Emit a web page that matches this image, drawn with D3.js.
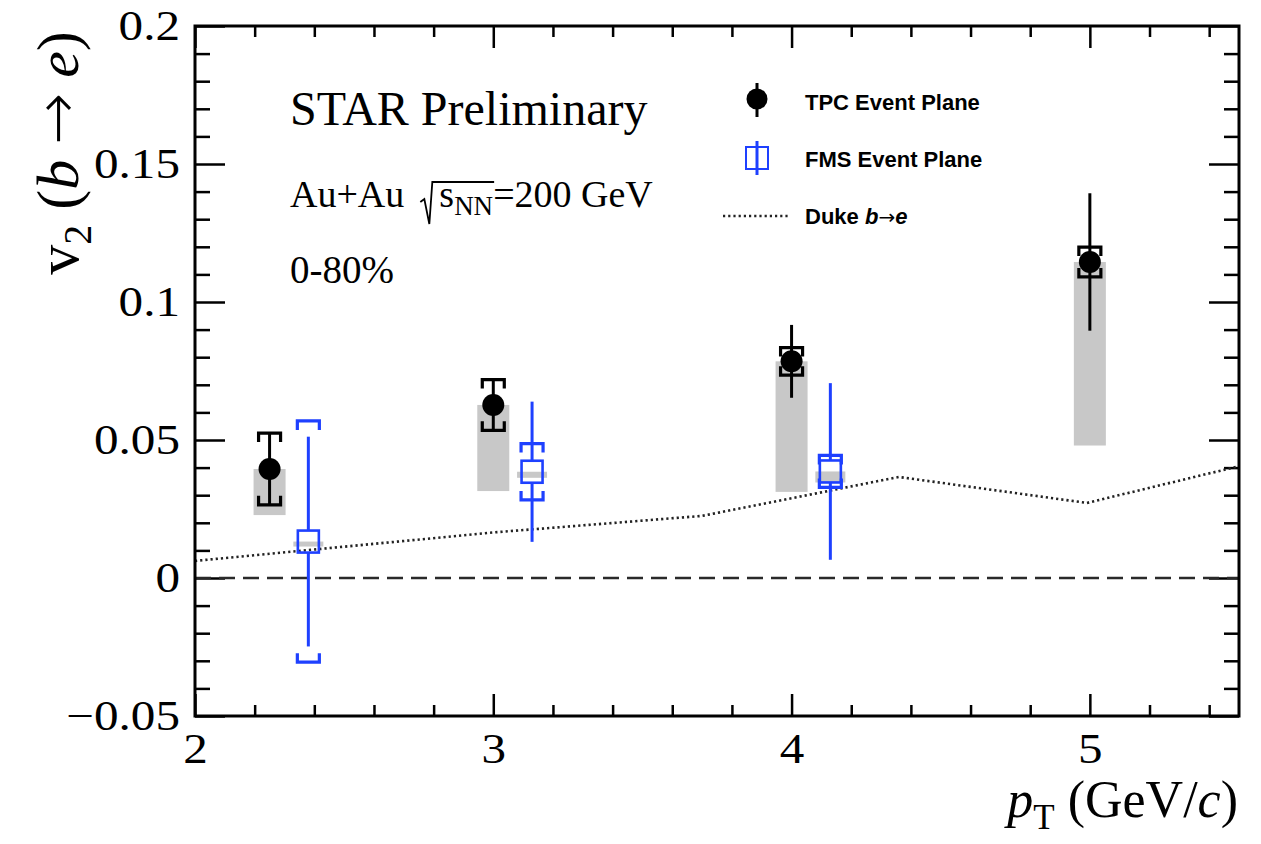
<!DOCTYPE html>
<html>
<head>
<meta charset="utf-8">
<script src="https://cdn.jsdelivr.net/npm/d3@7"></script>
<style>
  body { margin: 0; background: #fff; }
  svg { display: block; }
  .serif { font-family: "Liberation Serif", "Times New Roman", serif; }
</style>
</head>
<body>
<div id="chart"></div>
<script>
// v2 of b->e vs pT
var tpcPt = [2.25, 3.0, 4.0, 5.0];
var tpcV2 = [0.0395, 0.0627, 0.0785, 0.1145];
var tpcStat = [0.0132, 0.0092, 0.0132, 0.0249];
var tpcSys = [0.013, 0.0092, 0.005, 0.0054];
var tpcLow = [0.0228, 0.0315, 0.0312, 0.048];   // grey box bottom

var fmsPt = [2.38, 3.13, 4.13];
var fmsV2 = [0.0132, 0.0385, 0.0386];
var fmsStat = [0.038, 0.0254, 0.032];
var fmsSys = [0.0437, 0.0102, 0.0058];
var fmsLow = [0.0114, 0.0363, 0.0346];

var dukePt = [2.0, 3.0, 3.7, 4.36, 4.99, 5.5];
var dukeV2 = [0.0062, 0.0165, 0.0225, 0.0366, 0.0272, 0.0405];

var xTicks = [2, 3, 4, 5];
var xTickLabels = ["2", "3", "4", "5"];
var yTicks = [-0.05, 0, 0.05, 0.1, 0.15, 0.2];
var yTickLabels = ["\u22120.05", "0", "0.05", "0.1", "0.15", "0.2"];

var W = 1261, H = 844;
var blue = "#1e40ff", grey = "#c8c8c8";

var svg = d3.select("#chart").append("svg")
  .attr("width", W).attr("height", H);

var x = d3.scaleLinear().domain([2, 5.5]).range([195, 1239]);
var y = d3.scaleLinear().domain([-0.05, 0.2]).range([716, 26]);

var xMinor = d3.range(2, 5.5, 0.2).filter(function(v) { return Math.abs(v - Math.round(v)) > 1e-6; });
var yMinor = d3.range(-0.05, 0.2, 0.01).filter(function(v) { return Math.abs(v * 20 - Math.round(v * 20)) > 1e-6; });

function styleAxis(g) {
  g.select(".domain").remove();
  g.selectAll(".tick line").attr("stroke", "#000").attr("stroke-width", 2.5);
  g.selectAll("text").attr("class", "serif").attr("font-size", 42).attr("fill", "#000")
    .each(function() {
      var w = this.getComputedTextLength();
      d3.select(this).attr("textLength", w * 1.17).attr("lengthAdjust", "spacingAndGlyphs");
    });
}

// left
svg.append("g").attr("transform", "translate(195,0)")
  .call(d3.axisLeft(y).tickValues(yTicks).tickSize(-30).tickPadding(15)
    .tickFormat(function(d, i) { return yTickLabels[i]; }))
  .call(styleAxis);
svg.append("g").attr("transform", "translate(195,0)")
  .call(d3.axisLeft(y).tickValues(yMinor).tickSize(-15).tickFormat(""))
  .call(styleAxis);
// right
svg.append("g").attr("transform", "translate(1239,0)")
  .call(d3.axisRight(y).tickValues(yTicks).tickSize(-30).tickFormat(""))
  .call(styleAxis);
svg.append("g").attr("transform", "translate(1239,0)")
  .call(d3.axisRight(y).tickValues(yMinor).tickSize(-15).tickFormat(""))
  .call(styleAxis);
// bottom
svg.append("g").attr("transform", "translate(0,716)")
  .call(d3.axisBottom(x).tickValues(xTicks).tickSize(-22).tickPadding(17)
    .tickFormat(function(d, i) { return xTickLabels[i]; }))
  .call(styleAxis);
svg.append("g").attr("transform", "translate(0,716)")
  .call(d3.axisBottom(x).tickValues(xMinor).tickSize(-11).tickFormat(""))
  .call(styleAxis);
// top
svg.append("g").attr("transform", "translate(0,26)")
  .call(d3.axisTop(x).tickValues(xTicks).tickSize(-22).tickFormat(""))
  .call(styleAxis);
svg.append("g").attr("transform", "translate(0,26)")
  .call(d3.axisTop(x).tickValues(xMinor).tickSize(-11).tickFormat(""))
  .call(styleAxis);

// zero line
svg.append("line")
  .attr("x1", x(2)).attr("x2", x(5.5)).attr("y1", y(0)).attr("y2", y(0))
  .attr("stroke", "#2a2a2a").attr("stroke-width", 2.6).attr("stroke-dasharray", "16,8");

// grey boxes
svg.selectAll(".tpcbox").data(tpcPt).enter().append("rect")
  .attr("x", function(d) { return x(d) - 16; })
  .attr("width", 32)
  .attr("y", function(d, i) { return y(tpcV2[i]); })
  .attr("height", function(d, i) { return y(tpcLow[i]) - y(tpcV2[i]); })
  .attr("fill", grey);
svg.selectAll(".fmsbox").data(fmsPt).enter().append("rect")
  .attr("x", function(d) { return x(d) - 15; })
  .attr("width", 30)
  .attr("y", function(d, i) { return y(fmsV2[i]); })
  .attr("height", function(d, i) { return y(fmsLow[i]) - y(fmsV2[i]); })
  .attr("fill", grey);

// Duke curve
var duke = dukePt.map(function(d, i) { return [d, dukeV2[i]]; });
svg.append("path").datum(duke)
  .attr("d", d3.line().x(function(d) { return x(d[0]); }).y(function(d) { return y(d[1]); }))
  .attr("fill", "none").attr("stroke", "#222").attr("stroke-width", 2.6)
  .attr("stroke-dasharray", "2.2,3");

// brackets for systematic errors
function bracket(cx, cy, dir, w, leg) {
  // dir -1: top bracket (legs down), +1 bottom bracket (legs up)
  var h = w / 2;
  return "M" + (cx - h) + "," + (cy - dir * leg) + "L" + (cx - h) + "," + cy +
    "L" + (cx + h) + "," + cy + "L" + (cx + h) + "," + (cy - dir * leg);
}

function drawSeries(pts, v2, stat, sys, color, gap, cls) {
  var g = svg.append("g").attr("class", cls);
  pts.forEach(function(p, i) {
    var cx = x(p), cy = y(v2[i]);
    g.append("line").attr("x1", cx).attr("x2", cx)
      .attr("y1", y(v2[i] + stat[i])).attr("y2", cy - gap)
      .attr("stroke", color).attr("stroke-width", 3);
    g.append("line").attr("x1", cx).attr("x2", cx)
      .attr("y1", cy + gap).attr("y2", y(v2[i] - stat[i]))
      .attr("stroke", color).attr("stroke-width", 3);
    g.append("path").attr("d", bracket(cx, y(v2[i] + sys[i]), -1, 22, 9))
      .attr("fill", "none").attr("stroke", color).attr("stroke-width", 3.2);
    g.append("path").attr("d", bracket(cx, y(v2[i] - sys[i]), 1, 22, 9))
      .attr("fill", "none").attr("stroke", color).attr("stroke-width", 3.2);
  });
  return g;
}

drawSeries(tpcPt, tpcV2, tpcStat, tpcSys, "#000", 0, "tpc")
  .selectAll(".m").data(tpcPt).enter().append("circle")
  .attr("cx", function(d) { return x(d); })
  .attr("cy", function(d, i) { return y(tpcV2[i]); })
  .attr("r", 11).attr("fill", "#000");

drawSeries(fmsPt, fmsV2, fmsStat, fmsSys, blue, 11, "fms")
  .selectAll(".m").data(fmsPt).enter().append("rect")
  .attr("x", function(d) { return x(d) - 10.5; })
  .attr("y", function(d, i) { return y(fmsV2[i]) - 11; })
  .attr("width", 21).attr("height", 22)
  .attr("fill", "none").attr("stroke", blue).attr("stroke-width", 2.6);

// frame
svg.append("rect").attr("x", 195).attr("y", 26).attr("width", 1044).attr("height", 690)
  .attr("fill", "none").attr("stroke", "#000").attr("stroke-width", 3);

// labels
var ylab = svg.append("text").attr("class", "serif")
  .attr("transform", "translate(78,153) rotate(-90)")
  .attr("text-anchor", "middle").attr("font-size", 60);
ylab.append("tspan").text("v");
ylab.append("tspan").attr("font-size", 40).attr("dy", 13).text("2");
ylab.append("tspan").attr("dy", -13).text(" (");
ylab.append("tspan").attr("font-style", "italic").text("b");
ylab.append("tspan").text(" ");
ylab.append("tspan").attr("font-family", "DejaVu Sans").attr("font-weight", 200).attr("font-size", 62).text("\u2192");
ylab.append("tspan").text(" ");
ylab.append("tspan").attr("font-style", "italic").text("e");
ylab.append("tspan").text(")");

var xlab = svg.append("text").attr("class", "serif")
  .attr("x", 1238).attr("y", 817).attr("text-anchor", "end").attr("font-size", 52);
xlab.append("tspan").attr("font-style", "italic").text("p");
xlab.append("tspan").attr("font-size", 35).attr("dy", 12).text("T");
xlab.append("tspan").attr("dy", -12).text(" (GeV/");
xlab.append("tspan").attr("font-style", "italic").text("c");
xlab.append("tspan").text(")");

svg.append("text").attr("class", "serif").attr("x", 290).attr("y", 125)
  .attr("font-size", 48).text("STAR Preliminary");

var sys = svg.append("text").attr("class", "serif").attr("x", 290).attr("y", 207)
  .attr("font-size", 38);
sys.append("tspan").text("Au+Au");
sys.append("tspan").attr("dx", 35).text("s");
sys.append("tspan").attr("font-size", 27).attr("dy", 8).text("NN");
sys.append("tspan").attr("dy", -8).text("=200 GeV");
var sNode = sys.node();
var sBox = sNode.getExtentOfChar(5);
var nBox = sNode.getExtentOfChar(7);
var rx0 = sBox.x - 10;
svg.append("path")
  .attr("d", "M" + (rx0 - 9) + ",202 L" + (rx0 - 5) + ",199 L" + rx0 + ",224 L" + (rx0 + 3) + ",182 L" + (nBox.x + nBox.width + 1) + ",182")
  .attr("fill", "none").attr("stroke", "#000").attr("stroke-width", 1.8);

svg.append("text").attr("class", "serif").attr("x", 290).attr("y", 283)
  .attr("font-size", 39).text("0-80%");

// legend
var leg = svg.append("g").attr("font-family", "Liberation Sans, Arial, sans-serif")
  .attr("font-weight", "bold").attr("font-size", 22);
leg.append("line").attr("x1", 757).attr("x2", 757).attr("y1", 83).attr("y2", 117)
  .attr("stroke", "#000").attr("stroke-width", 3);
leg.append("circle").attr("cx", 757).attr("cy", 99).attr("r", 10.5).attr("fill", "#000");
leg.append("text").attr("x", 805).attr("y", 110).text("TPC Event Plane");

leg.append("rect").attr("x", 746).attr("y", 147).attr("width", 22).attr("height", 22)
  .attr("fill", "none").attr("stroke", blue).attr("stroke-width", 2);
leg.append("line").attr("x1", 757).attr("x2", 757).attr("y1", 141).attr("y2", 175)
  .attr("stroke", blue).attr("stroke-width", 3);
leg.append("text").attr("x", 805).attr("y", 167).text("FMS Event Plane");

leg.append("line").attr("x1", 723).attr("x2", 788).attr("y1", 216).attr("y2", 216)
  .attr("stroke", "#222").attr("stroke-width", 2.6).attr("stroke-dasharray", "2.2,3");
var dl = leg.append("text").attr("x", 805).attr("y", 224);
dl.append("tspan").text("Duke ");
dl.append("tspan").attr("font-style", "italic").text("b");
dl.append("tspan").attr("font-family", "DejaVu Sans").attr("font-weight", "normal").attr("font-size", 20).text("\u2192");
dl.append("tspan").attr("font-style", "italic").text("e");
</script>
</body>
</html>
